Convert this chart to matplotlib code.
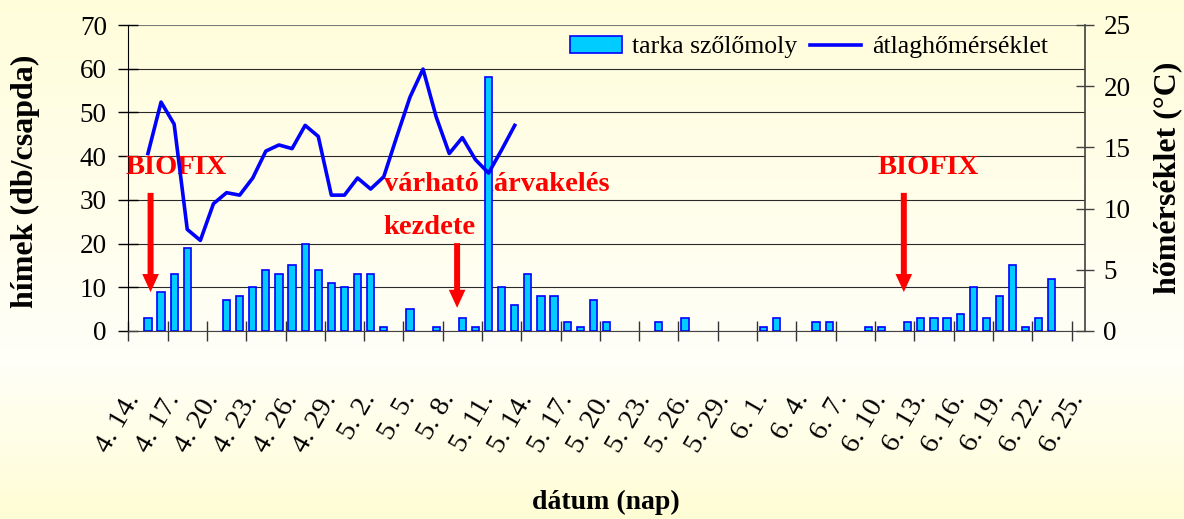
import numpy as np
import matplotlib.pyplot as plt

plt.rcParams['font.family'] = ['Liberation Serif', 'DejaVu Serif']

# daily catch, 4.14 -> 6.25 (73 days)
moly = [0, 3, 9, 13, 19, 0, 0, 7, 8, 10, 14, 13, 15, 20, 14, 11, 10,      # apr 14-30
        13, 13, 1, 0, 5, 0, 1, 0, 3, 1, 58, 10, 6, 13, 8, 8, 2, 1, 7, 2,   # may 1-20
        0, 0, 0, 2, 0, 3, 0, 0, 0, 0, 0,                                    # may 21-31
        1, 3, 0, 0, 2, 2, 0, 0, 1, 1, 0, 2, 3, 3, 3, 4, 10, 3, 8, 15,       # jun 1-20
        1, 3, 12, 0, 0]                                                     # jun 21-25
# mean temperature, only until 5.13
homerseklet = [np.nan, 14.5, 18.7, 16.9, 8.3, 7.4, 10.4, 11.3, 11.1, 12.5,
               14.7, 15.2, 14.9, 16.8, 15.9, 11.1, 11.1, 12.5, 11.6, 12.6,
               15.9, 19.1, 21.4, 17.5, 14.5, 15.8, 14.0, 12.9, 14.8, 16.8]
datum_cimkek = ['4. 14.', '4. 17.', '4. 20.', '4. 23.', '4. 26.', '4. 29.',
                '5. 2.', '5. 5.', '5. 8.', '5. 11.', '5. 14.', '5. 17.',
                '5. 20.', '5. 23.', '5. 26.', '5. 29.', '6. 1.', '6. 4.',
                '6. 7.', '6. 10.', '6. 13.', '6. 16.', '6. 19.', '6. 22.', '6. 25.']

W, H = 1184, 519
fig = plt.figure(figsize=(W / 100, H / 100), dpi=100)

# yellowish background gradient
bg = fig.add_axes([0, 0, 1, 1])
rows = np.arange(H)
stops = [0, 360, H - 1]
cols = np.array([[255, 253, 218], [255, 255, 248], [255, 253, 212]]) / 255
grad = np.stack([np.interp(rows, stops, cols[:, k]) for k in range(3)], axis=1)
bg.imshow(grad[:, None, :], aspect='auto', extent=[0, 1, 0, 1])
bg.axis('off')
leg_bg = tuple(grad[46])

ax = fig.add_axes([128.3 / W, 1 - 331 / H, 956.3 / W, 306 / H])
ax.set_facecolor('none')
ax2 = ax.twinx()

x = np.arange(len(moly))
fogas = np.array(moly, dtype=float)
fogas[fogas == 0] = np.nan   # empty days get no bar at all
ax.bar(x, fogas, width=0.55, color='#00CCFF', edgecolor='#0000FF', lw=1.2,
       label='tarka szőlőmoly', zorder=3)
ax2.plot(np.arange(len(homerseklet)), homerseklet, color='#0000FF', lw=2.6,
         label='átlaghőmérséklet', zorder=4)

ax.set_xlim(-0.5, 72.5)
ax.set_ylim(0, 70)
ax2.set_ylim(0, 25)
ax.set_yticks(range(0, 71, 10))
ax2.set_yticks(range(0, 26, 5))
ax.grid(axis='y', color='#2a2a2a', lw=0.8)
ax.get_ygridlines()[-1].set_color('#7a7a7a')
ax.set_axisbelow(True)

ax.set_xticks(range(0, 73, 3))
ax.set_xticklabels(datum_cimkek)
ax.set_xticks(np.arange(-0.5, 72, 3), minor=True)
ax.tick_params(axis='x', which='major', length=0, pad=46, labelsize=20.5)
ax.tick_params(axis='x', which='minor', direction='inout', length=15, width=1, color='#333333')
plt.setp(ax.get_xticklabels(), rotation=60, ha='right', va='center', rotation_mode='anchor')

ax.tick_params(axis='y', direction='inout', length=15, width=1, pad=8, labelsize=19.5)
ax2.tick_params(axis='y', direction='inout', length=13, width=1, pad=7, labelsize=19.5,
                color='#404040')

for s in ['top', 'right']:
    ax.spines[s].set_visible(False)
for s in ['top', 'left', 'bottom']:
    ax2.spines[s].set_visible(False)
ax.spines['left'].set_color('black')
ax.spines['bottom'].set_color('#444444')
ax2.spines['right'].set_color('#404040')
ax2.spines['right'].set_linewidth(1.2)

ax.set_ylabel('hímek (db/csapda)', fontsize=23, fontweight='bold')
ax.yaxis.set_label_coords(-0.0925, 0.49)
ax2.set_ylabel('hőmérséklet (°C)', fontsize=23, fontweight='bold')
ax2.yaxis.set_label_coords(1.0715, 0.5)
fig.text(0.512, 1 - 502 / H, 'dátum (nap)', ha='center', va='center',
         fontsize=20, fontweight='bold')

# red notes and arrows
nyil = dict(facecolor='#FF0000', edgecolor='none', width=4.3, headwidth=12,
            headlength=13, shrink=0)
ax.text(3.15, 37.5, 'BIOFIX', color='#FF0000', fontsize=20.5, fontweight='bold',
        ha='center', va='center', zorder=5)
ax.annotate('', xy=(1.2, 8.9), xytext=(1.2, 31.6), arrowprops=nyil)
ax.text(60.6, 37.5, 'BIOFIX', color='#FF0000', fontsize=20.5, fontweight='bold',
        ha='center', va='center', zorder=5)
ax.annotate('', xy=(58.7, 8.9), xytext=(58.7, 31.6), arrowprops=nyil)
ax.text(19.0, 33.4, 'várható lárvakelés', color='#FF0000', fontsize=20.5,
        fontweight='bold', ha='left', va='center', zorder=2)
ax.text(19.0, 23.6, 'kezdete', color='#FF0000', fontsize=20.5,
        fontweight='bold', ha='left', va='center', zorder=2)
ax.annotate('', xy=(24.6, 5.3), xytext=(24.6, 20.1), arrowprops=nyil)

h1, l1 = ax.get_legend_handles_labels()
h2, l2 = ax2.get_legend_handles_labels()
ax2.legend(h1 + h2, l1 + l2, ncol=2, loc='center',
           bbox_to_anchor=(809 / W, 1 - 47 / H), bbox_transform=fig.transFigure,
           fontsize=18.5, frameon=True, fancybox=False, facecolor=leg_bg,
           edgecolor='none', framealpha=1, handlelength=2.0, handletextpad=0.4,
           columnspacing=0.5, borderpad=0.3)

plt.savefig('out.png', dpi=100)
